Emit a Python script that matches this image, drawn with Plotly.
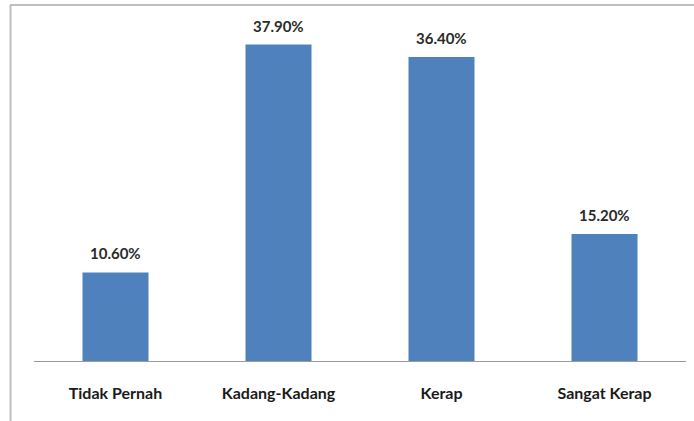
import plotly.graph_objects as go

categories = ["Tidak Pernah", "Kadang-Kadang", "Kerap", "Sangat Kerap"]
values = [10.60, 37.90, 36.40, 15.20]
value_labels = ["10.60%", "37.90%", "36.40%", "15.20%"]

fig = go.Figure()
fig.add_trace(go.Bar(
    x=categories, y=values,
    marker=dict(color="#4F81BD", line=dict(width=0)),
    hoverinfo="skip",
))

for c, v, t in zip(categories, values, value_labels):
    fig.add_annotation(x=c, y=v, text=t, showarrow=False, yanchor="bottom",
                       yshift=8, font=dict(family="Lato", size=15, color="#2A2A2A",
                                           weight="bold"))

L, R, T, B = 34, 8, 27, 60
W, H = 694, 421
pw, ph = W - L - R, H - T - B
px = lambda x: (x - L) / pw
py = lambda y: (H - B - y) / ph

fig.add_shape(type="line", xref="paper", yref="paper",
              x0=px(10), x1=px(694), y0=py(5), y1=py(5),
              line=dict(color="#BFBFBF", width=2))
fig.add_shape(type="line", xref="paper", yref="paper",
              x0=px(10.5), x1=px(10.5), y0=py(5), y1=py(421),
              line=dict(color="#BFBFBF", width=2))

fig.update_layout(
    width=W, height=H,
    margin=dict(l=L, r=R, t=T, b=B),
    paper_bgcolor="white", plot_bgcolor="white",
    bargap=0.595,
    showlegend=False,
    font=dict(family="Lato", size=15, color="#333333"),
    xaxis=dict(showline=True, linecolor="#9A9A9A", linewidth=1, ticks="",
               tickfont=dict(family="Lato", size=16, color="#1A1A1A", weight="bold"),
               ticklabelstandoff=18, showgrid=False),
    yaxis=dict(range=[0, 40], visible=False, showgrid=False, zeroline=False),
)

fig.write_html("out.html",
               config={"displayModeBar": False, "staticPlot": True},
               post_script="document.body.style.margin='0';document.body.style.overflow='hidden';")
